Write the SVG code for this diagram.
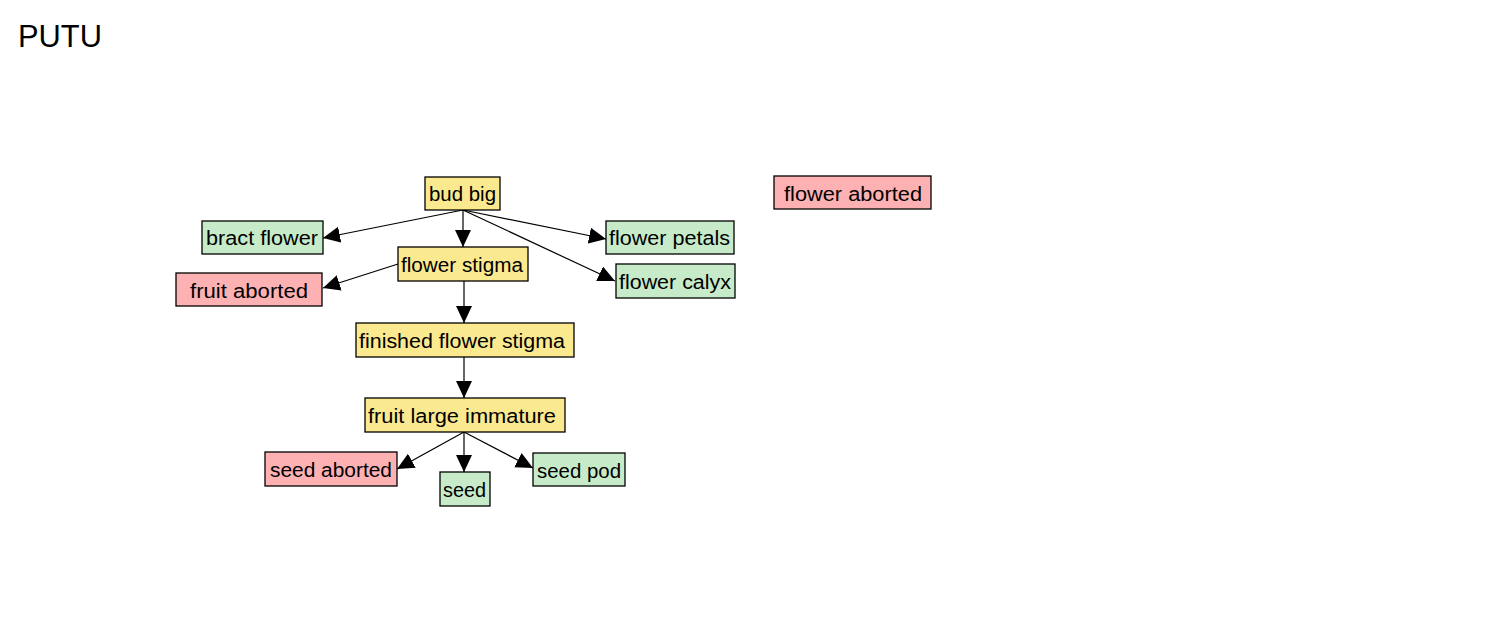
<svg xmlns="http://www.w3.org/2000/svg" width="1500" height="625" viewBox="0 0 1500 625">
<defs>
<style>
.n rect{stroke:#000;stroke-width:1.3}
.y rect{fill:#fbe98f}
.g rect{fill:#c7ebc8}
.r rect{fill:#feb1b2}
text{font-family:"Liberation Sans",Arial,sans-serif;font-size:20px;fill:#000}
.e line{stroke:#000;stroke-width:1.2;marker-end:url(#a)}
</style>
<marker id="a" markerUnits="userSpaceOnUse" markerWidth="17" markerHeight="17" viewBox="0 0 17 17" refX="17" refY="8.5" orient="auto">
<path d="M0,0.5 L17,8.5 L0,16.5 Z" fill="#000"/>
</marker>
</defs>
<rect width="1500" height="625" fill="#fff"/>
<text x="18" y="47" textLength="84" lengthAdjust="spacingAndGlyphs" style="font-size:31px">PUTU</text>
<g class="e">
<line x1="463" y1="210" x2="463" y2="247"/>
<line x1="463" y1="210" x2="323" y2="238"/>
<line x1="463" y1="210" x2="606" y2="239"/>
<line x1="463" y1="210" x2="615" y2="281"/>
<line x1="398" y1="264" x2="323" y2="288"/>
<line x1="464" y1="281" x2="464" y2="323"/>
<line x1="464" y1="357" x2="464" y2="398"/>
<line x1="464" y1="432" x2="397" y2="469"/>
<line x1="464" y1="432" x2="464" y2="472"/>
<line x1="464" y1="432" x2="533" y2="468"/>
</g>
<g id="bud-big" class="n y"><rect x="425" y="177" width="75" height="33"/><text x="429" y="201" textLength="67" lengthAdjust="spacingAndGlyphs">bud big</text></g>
<g id="bract-flower" class="n g"><rect x="202" y="221" width="121" height="33"/><text x="206" y="245" textLength="112" lengthAdjust="spacingAndGlyphs">bract flower</text></g>
<g id="flower-stigma" class="n y"><rect x="398" y="247" width="130" height="34"/><text x="401" y="272" textLength="122" lengthAdjust="spacingAndGlyphs">flower stigma</text></g>
<g id="fruit-aborted" class="n r"><rect x="176" y="273" width="146" height="33"/><text x="190" y="298" textLength="118" lengthAdjust="spacingAndGlyphs">fruit aborted</text></g>
<g id="flower-petals" class="n g"><rect x="606" y="221" width="128" height="33"/><text x="609" y="245" textLength="121" lengthAdjust="spacingAndGlyphs">flower petals</text></g>
<g id="flower-calyx" class="n g"><rect x="616" y="264" width="119" height="34"/><text x="619" y="289" textLength="112" lengthAdjust="spacingAndGlyphs">flower calyx</text></g>
<g id="flower-aborted" class="n r"><rect x="774" y="176" width="157" height="33"/><text x="784" y="201" textLength="138" lengthAdjust="spacingAndGlyphs">flower aborted</text></g>
<g id="finished-flower-stigma" class="n y"><rect x="356" y="323" width="218" height="34"/><text x="359" y="348" textLength="206" lengthAdjust="spacingAndGlyphs">finished flower stigma</text></g>
<g id="fruit-large-immature" class="n y"><rect x="365" y="398" width="200" height="34"/><text x="368" y="423" textLength="188" lengthAdjust="spacingAndGlyphs">fruit large immature</text></g>
<g id="seed-aborted" class="n r"><rect x="265" y="452" width="132" height="34"/><text x="270" y="477" textLength="122" lengthAdjust="spacingAndGlyphs">seed aborted</text></g>
<g id="seed" class="n g"><rect x="440" y="472" width="50" height="34"/><text x="443" y="497" textLength="43" lengthAdjust="spacingAndGlyphs">seed</text></g>
<g id="seed-pod" class="n g"><rect x="533" y="453" width="92" height="33"/><text x="537" y="478" textLength="84" lengthAdjust="spacingAndGlyphs">seed pod</text></g>
</svg>
